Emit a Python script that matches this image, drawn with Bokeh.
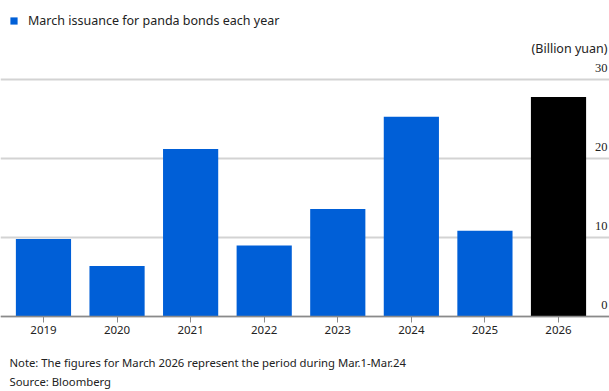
from bokeh.plotting import figure
from bokeh.models import (ColumnDataSource, Range1d, FixedTicker, LabelSet, Label,
                          Legend, LegendItem)
from bokeh.embed import file_html
from bokeh.resources import INLINE

years = ["2019", "2020", "2021", "2022", "2023", "2024", "2025", "2026"]
issuance = [9.8, 6.4, 21.2, 9.0, 13.6, 25.3, 10.85, 27.8]
bar_colors = ["#005fd7"] * 7 + ["#000000"]
y_ticks = [0, 10, 20, 30]
y_tick_labels = ["0", "10", "20", "30"]
note_text = "Note: The figures for March 2026 represent the period during Mar.1-Mar.24"
source_text = "Source: Bloomberg"
unit_text = "(Billion yuan)"
legend_text = "March issuance for panda bonds each year"

FONT = "Noto Sans"
x_start, x_end = -0.584, 7.693
y_start, y_end = -9.49, 40.0

src = ColumnDataSource(dict(x=list(range(len(years))), top=issuance, color=bar_colors))

p = figure(width=609, height=391, output_backend="svg", toolbar_location=None,
           x_range=Range1d(x_start, x_end), y_range=Range1d(y_start, y_end),
           min_border_left=0, min_border_right=0, min_border_top=0, min_border_bottom=0)
p.outline_line_color = None
p.yaxis.visible = False
p.xgrid.visible = False

r = p.vbar(x="x", bottom=0, top="top", width=0.75, fill_color="color",
           line_color=None, source=src)

# grid
p.ygrid.ticker = FixedTicker(ticks=y_ticks)
p.ygrid.grid_line_color = "#d3d3d3"
p.ygrid.grid_line_width = 2

# x axis drawn at y = 0
ax = p.xaxis[0]
ax.fixed_location = 0
ax.ticker = FixedTicker(ticks=list(range(len(years))))
ax.major_label_overrides = {i: y for i, y in enumerate(years)}
ax.axis_line_color = "#8a8a8a"
ax.axis_line_width = 1.5
ax.major_tick_line_color = "#8a8a8a"
ax.major_tick_out = 6
ax.major_tick_in = 0
ax.minor_tick_line_color = None
ax.major_label_text_font = FONT
ax.major_label_text_font_size = "11.5px"
ax.major_label_text_color = "#222222"
ax.major_label_standoff = 3

# y tick labels on the right, above grid lines
lab_src = ColumnDataSource(dict(y=y_ticks, text=y_tick_labels))
p.add_layout(LabelSet(x=x_end, y="y", text="text", source=lab_src,
                      text_align="right", text_baseline="bottom",
                      x_offset=-2, y_offset=8,
                      text_font=FONT, text_font_size="12.5px", text_color="#222222"))
p.add_layout(Label(x=x_end, y=30, text=unit_text, text_align="right",
                   text_baseline="bottom", x_offset=-2, y_offset=23,
                   text_font=FONT, text_font_size="12.5px", text_color="#222222"))

# legend
legend = Legend(items=[LegendItem(label=legend_text, renderers=[r], index=0)],
                location=(9, 362), padding=0, margin=0, spacing=0,
                glyph_width=9, glyph_height=9, label_standoff=10,
                label_text_font=FONT, label_text_font_size="12.5px",
                label_text_color="#222222",
                border_line_color=None, background_fill_alpha=0)
p.add_layout(legend, "center")

# notes below the axis
p.add_layout(Label(x=x_start, y=0, text=note_text, x_offset=9, y_offset=-46,
                   text_baseline="middle", text_font=FONT, text_font_size="11.3px",
                   text_color="#222222"))
p.add_layout(Label(x=x_start, y=0, text=source_text, x_offset=9, y_offset=-65,
                   text_baseline="middle", text_font=FONT, text_font_size="11.3px",
                   text_color="#222222"))

open("out.html", "w").write(file_html(p, INLINE))
